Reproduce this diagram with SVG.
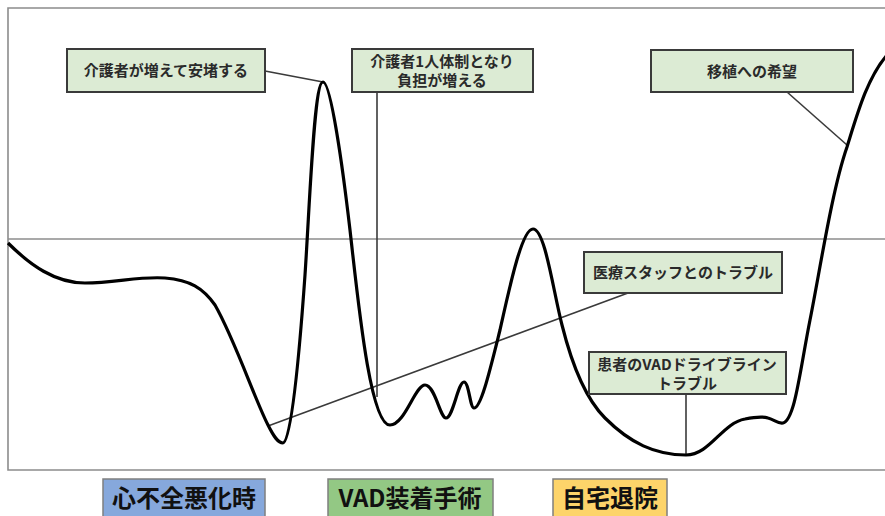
<svg xmlns="http://www.w3.org/2000/svg" width="885" height="516" viewBox="0 0 885 516">
<style>
.frame{fill:none;stroke:#8c8c8c;stroke-width:1.6}
.note rect{fill:#dcebd4;stroke:#3a3a3a;stroke-width:2}
.note text{font-family:"Noto Sans CJK JP","Noto Sans",sans-serif;font-weight:bold;font-size:15px;fill:#2a2a2a;text-anchor:middle}
.lead{fill:none;stroke:#3a3a3a;stroke-width:1.6}
.curve{fill:none;stroke:#000;stroke-width:3.2;stroke-linejoin:round}
.phase rect{stroke:#7f7f7f;stroke-width:1.5}
.phase text{font-family:"Noto Sans CJK JP","Noto Sans",sans-serif;font-weight:bold;font-size:24px;fill:#111;text-anchor:middle}
</style>
<rect width="885" height="516" fill="#fff"/>
<g id="frame">
<path class="frame" d="M887,8 H8 V470 H887"/>
<line class="frame" x1="8" y1="239" x2="887" y2="239"/>
</g>
<g id="connectors">
<line class="lead" x1="265" y1="71" x2="323" y2="82"/>
<line class="lead" x1="377" y1="92" x2="377" y2="397"/>
<line class="lead" x1="787" y1="92" x2="847" y2="145"/>
<line class="lead" x1="628" y1="293" x2="268" y2="426"/>
<line class="lead" x1="686" y1="394" x2="686" y2="455"/>
</g>
<g id="curve">
<path class="curve" d="M8,243 C30,265 55,283 85,283 C115,283 140,276 165,278 C190,280 203,288 215,305 C235,340 255,400 268,425 C274,437 278,443 283,443 C291,443 299,360 305,275 C310,200 314,82 323,82 C331,82 343,170 350,230 C358,300 370,425 390,425 C405,425 415,385 425,385 C435,385 440,418 446,418 C453,418 458,382 464,382 C469,382 470,408 474,408 C481,408 490,370 500,330 C510,285 522,229 533,229 C545,229 553,290 562,325 C572,365 585,398 605,418 C630,443 655,455 686,455 C710,455 722,423 745,419 C755,417 762,416 768,418 C775,420 778,424 783,423 C795,420 800,370 810,320 C820,270 832,190 847,147 C857,115 867,78 887,55"/>
</g>
<g id="note1" class="note">
<rect x="67" y="49" width="198" height="43"/>
<text x="166" y="76">介護者が増えて安堵する</text>
</g>
<g id="note2" class="note">
<rect x="352" y="49" width="181" height="43"/>
<text x="442" y="67">介護者1人体制となり</text>
<text x="442" y="86">負担が増える</text>
</g>
<g id="note3" class="note">
<rect x="651" y="50" width="202" height="42"/>
<text x="752" y="77">移植への希望</text>
</g>
<g id="note4" class="note">
<rect x="584" y="252" width="198" height="41"/>
<text x="683" y="278">医療スタッフとのトラブル</text>
</g>
<g id="note5" class="note">
<rect x="589" y="352" width="197" height="42"/>
<text x="687" y="370">患者のVADドライブライン</text>
<text x="687" y="389">トラブル</text>
</g>
<g id="phase1" class="phase">
<rect x="103" y="479" width="162" height="40" fill="#86a8dc"/>
<text x="184" y="507">心不全悪化時</text>
</g>
<g id="phase2" class="phase">
<rect x="328" y="479" width="165" height="40" fill="#93c884"/>
<text x="410" y="507">VAD装着手術</text>
</g>
<g id="phase3" class="phase">
<rect x="553" y="479" width="114" height="40" fill="#fdd46a"/>
<text x="610" y="507">自宅退院</text>
</g>
</svg>
